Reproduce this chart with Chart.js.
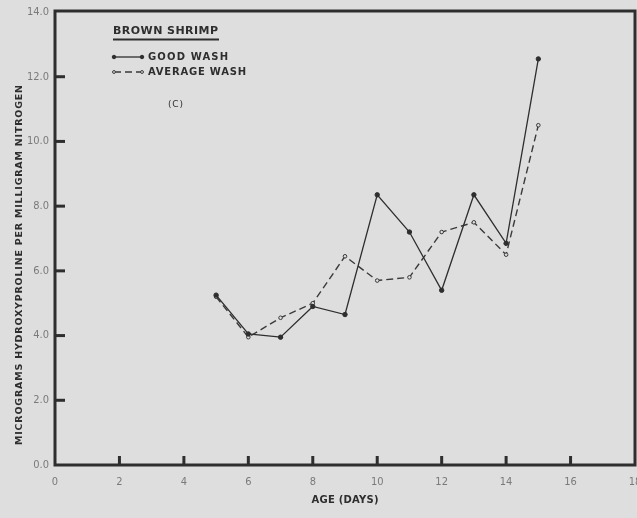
<!DOCTYPE html>
<html>
<head>
<meta charset="utf-8">
<script src="https://cdn.jsdelivr.net/npm/chart.js@4/dist/chart.umd.min.js"></script>
<style>
  html, body { margin: 0; padding: 0; background: #dedede; }
  #wrap { width: 637px; height: 518px; }
</style>
</head>
<body>
<div id="wrap"><canvas id="c" width="637" height="518"></canvas></div>
<script>
// Hydroxyproline content of brown shrimp by age
const days = [5, 6, 7, 8, 9, 10, 11, 12, 13, 14, 15];
const goodWash = [5.25, 4.05, 3.95, 4.9, 4.65, 8.35, 7.2, 5.4, 8.35, 6.85, 12.55];
const averageWash = [5.2, 3.95, 4.55, 5.0, 6.45, 5.7, 5.8, 7.2, 7.5, 6.5, 10.5];
const xTicks = [0, 2, 4, 6, 8, 10, 12, 14, 16, 18];
const yTicks = [0, 2, 4, 6, 8, 10, 12, 14];
const seriesNames = ['GOOD WASH', 'AVERAGE WASH'];
const legendTitle = 'BROWN SHRIMP';
const panelTag = '(C)';
const xTitle = 'AGE (DAYS)';
const yTitle = 'MICROGRAMS HYDROXYPROLINE PER MILLIGRAM NITROGEN';

const INK = '#2e2e2e';
const PAPER = '#dedede';
const TICK_TEXT = '#7a7a7a';
const LABEL_FONT = "'DejaVu Sans', sans-serif";
const NARROW_FONT = "'Liberation Sans Narrow', 'DejaVu Sans Condensed', sans-serif";

// text with tracking stretched to span a given width
function spacedText(ctx, text, x, y, font, width, align) {
  ctx.save();
  ctx.font = font;
  ctx.letterSpacing = '0px';
  const natural = ctx.measureText(text).width;
  const gap = Math.max(0, (width - natural) / Math.max(1, text.length - 1));
  ctx.letterSpacing = gap + 'px';
  ctx.textBaseline = 'middle';
  ctx.textAlign = 'left';
  let start = x;
  if (align === 'center') start = x - width / 2;
  ctx.fillText(text, start, y);
  ctx.restore();
}

const toXY = (vals) => days.map((d, i) => ({ x: d, y: vals[i] }));

const framePlugin = {
  id: 'frame',
  beforeDraw(chart) {
    const ctx = chart.ctx;
    ctx.save();
    ctx.fillStyle = PAPER;
    ctx.fillRect(0, 0, chart.width, chart.height);
    ctx.restore();
  },
  afterDraw(chart) {
    const { ctx, chartArea: a, scales } = chart;
    ctx.save();
    ctx.strokeStyle = INK;
    ctx.lineWidth = 3;
    ctx.lineCap = 'butt';
    // box round the plotting area
    ctx.strokeRect(a.left, a.top - 1, a.right - a.left, a.bottom - a.top + 1);
    // inward ticks on both axes
    yTicks.forEach(v => {
      if (v === 0 || v === 14) return;
      const py = scales.y.getPixelForValue(v);
      ctx.beginPath();
      ctx.moveTo(a.left, py);
      ctx.lineTo(a.left + 10, py);
      ctx.stroke();
    });
    xTicks.forEach(v => {
      if (v === 0 || v === 18) return;
      const px = scales.x.getPixelForValue(v);
      ctx.beginPath();
      ctx.moveTo(px, a.bottom);
      ctx.lineTo(px, a.bottom - 9);
      ctx.stroke();
    });

    // axis titles
    ctx.fillStyle = INK;
    spacedText(ctx, xTitle, 345, 500, 'bold 10px ' + LABEL_FONT, 67, 'center');
    ctx.save();
    ctx.translate(20, 265);
    ctx.rotate(-Math.PI / 2);
    spacedText(ctx, yTitle, 0, 0, 'bold 9.5px ' + LABEL_FONT, 360, 'center');
    ctx.restore();

    // legend block
    spacedText(ctx, legendTitle, 113, 31, 'bold 11px ' + LABEL_FONT, 105, 'left');
    ctx.lineWidth = 2;
    ctx.beginPath();
    ctx.moveTo(113, 39.5);
    ctx.lineTo(219, 39.5);
    ctx.stroke();

    const ds = chart.data.datasets;
    const rows = [57, 72];
    ds.forEach((d, i) => {
      const y = rows[i];
      ctx.save();
      ctx.strokeStyle = d.borderColor;
      ctx.lineWidth = d.borderWidth;
      ctx.setLineDash(d.borderDash || []);
      ctx.beginPath();
      ctx.moveTo(114, y);
      ctx.lineTo(142, y);
      ctx.stroke();
      ctx.setLineDash([]);
      [114, 142].forEach(px => {
        ctx.beginPath();
        ctx.arc(px, y, d.pointRadius * 0.8, 0, Math.PI * 2);
        ctx.fillStyle = d.pointBackgroundColor;
        ctx.fill();
        ctx.lineWidth = d.pointBorderWidth;
        ctx.strokeStyle = d.pointBorderColor;
        ctx.stroke();
      });
      ctx.restore();
      ctx.fillStyle = INK;
      spacedText(ctx, d.label, 148, y, 'bold 10px ' + LABEL_FONT, i === 0 ? 80 : 98, 'left');
    });
    spacedText(ctx, panelTag, 168, 104.5, '9px ' + LABEL_FONT, 15, 'left');
    ctx.restore();
  }
};

new Chart(document.getElementById('c'), {
  type: 'line',
  data: {
    datasets: [
      {
        label: seriesNames[0],
        data: toXY(goodWash),
        borderColor: INK,
        borderWidth: 1.3,
        pointRadius: 2.2,
        pointBackgroundColor: INK,
        pointBorderColor: INK,
        pointBorderWidth: 1,
        tension: 0,
        fill: false
      },
      {
        label: seriesNames[1],
        data: toXY(averageWash),
        borderColor: '#3a3a3a',
        borderWidth: 1.4,
        borderDash: [7, 4],
        pointRadius: 1.8,
        pointBackgroundColor: PAPER,
        pointBorderColor: '#3a3a3a',
        pointBorderWidth: 1,
        tension: 0,
        fill: false
      }
    ]
  },
  options: {
    responsive: false,
    animation: false,
    devicePixelRatio: 1,
    layout: { autoPadding: false, padding: { top: 12, right: 2, left: 0, bottom: 0 } },
    plugins: {
      legend: { display: false },
      tooltip: { enabled: false },
      title: { display: false }
    },
    scales: {
      x: {
        type: 'linear',
        min: 0,
        max: 18,
        afterBuildTicks(s) { s.ticks = xTicks.map(v => ({ value: v })); },
        afterFit(s) { s.height = 53; s.paddingLeft = 0; s.paddingRight = 0; },
        grid: { display: false, drawTicks: false },
        border: { display: false },
        ticks: {
          padding: 11,
          color: TICK_TEXT,
          font: { family: NARROW_FONT, size: 11 },
          maxRotation: 0,
          autoSkip: false,
          callback: v => String(v)
        }
      },
      y: {
        type: 'linear',
        min: 0,
        max: 14,
        afterBuildTicks(s) { s.ticks = yTicks.map(v => ({ value: v })); },
        afterFit(s) { s.width = 55; s.paddingTop = 0; s.paddingBottom = 0; },
        grid: { display: false, drawTicks: false },
        border: { display: false },
        ticks: {
          padding: 6,
          color: TICK_TEXT,
          font: { family: NARROW_FONT, size: 11 },
          autoSkip: false,
          callback: v => Number(v).toFixed(1)
        }
      }
    }
  },
  plugins: [framePlugin]
});
</script>
</body>
</html>
